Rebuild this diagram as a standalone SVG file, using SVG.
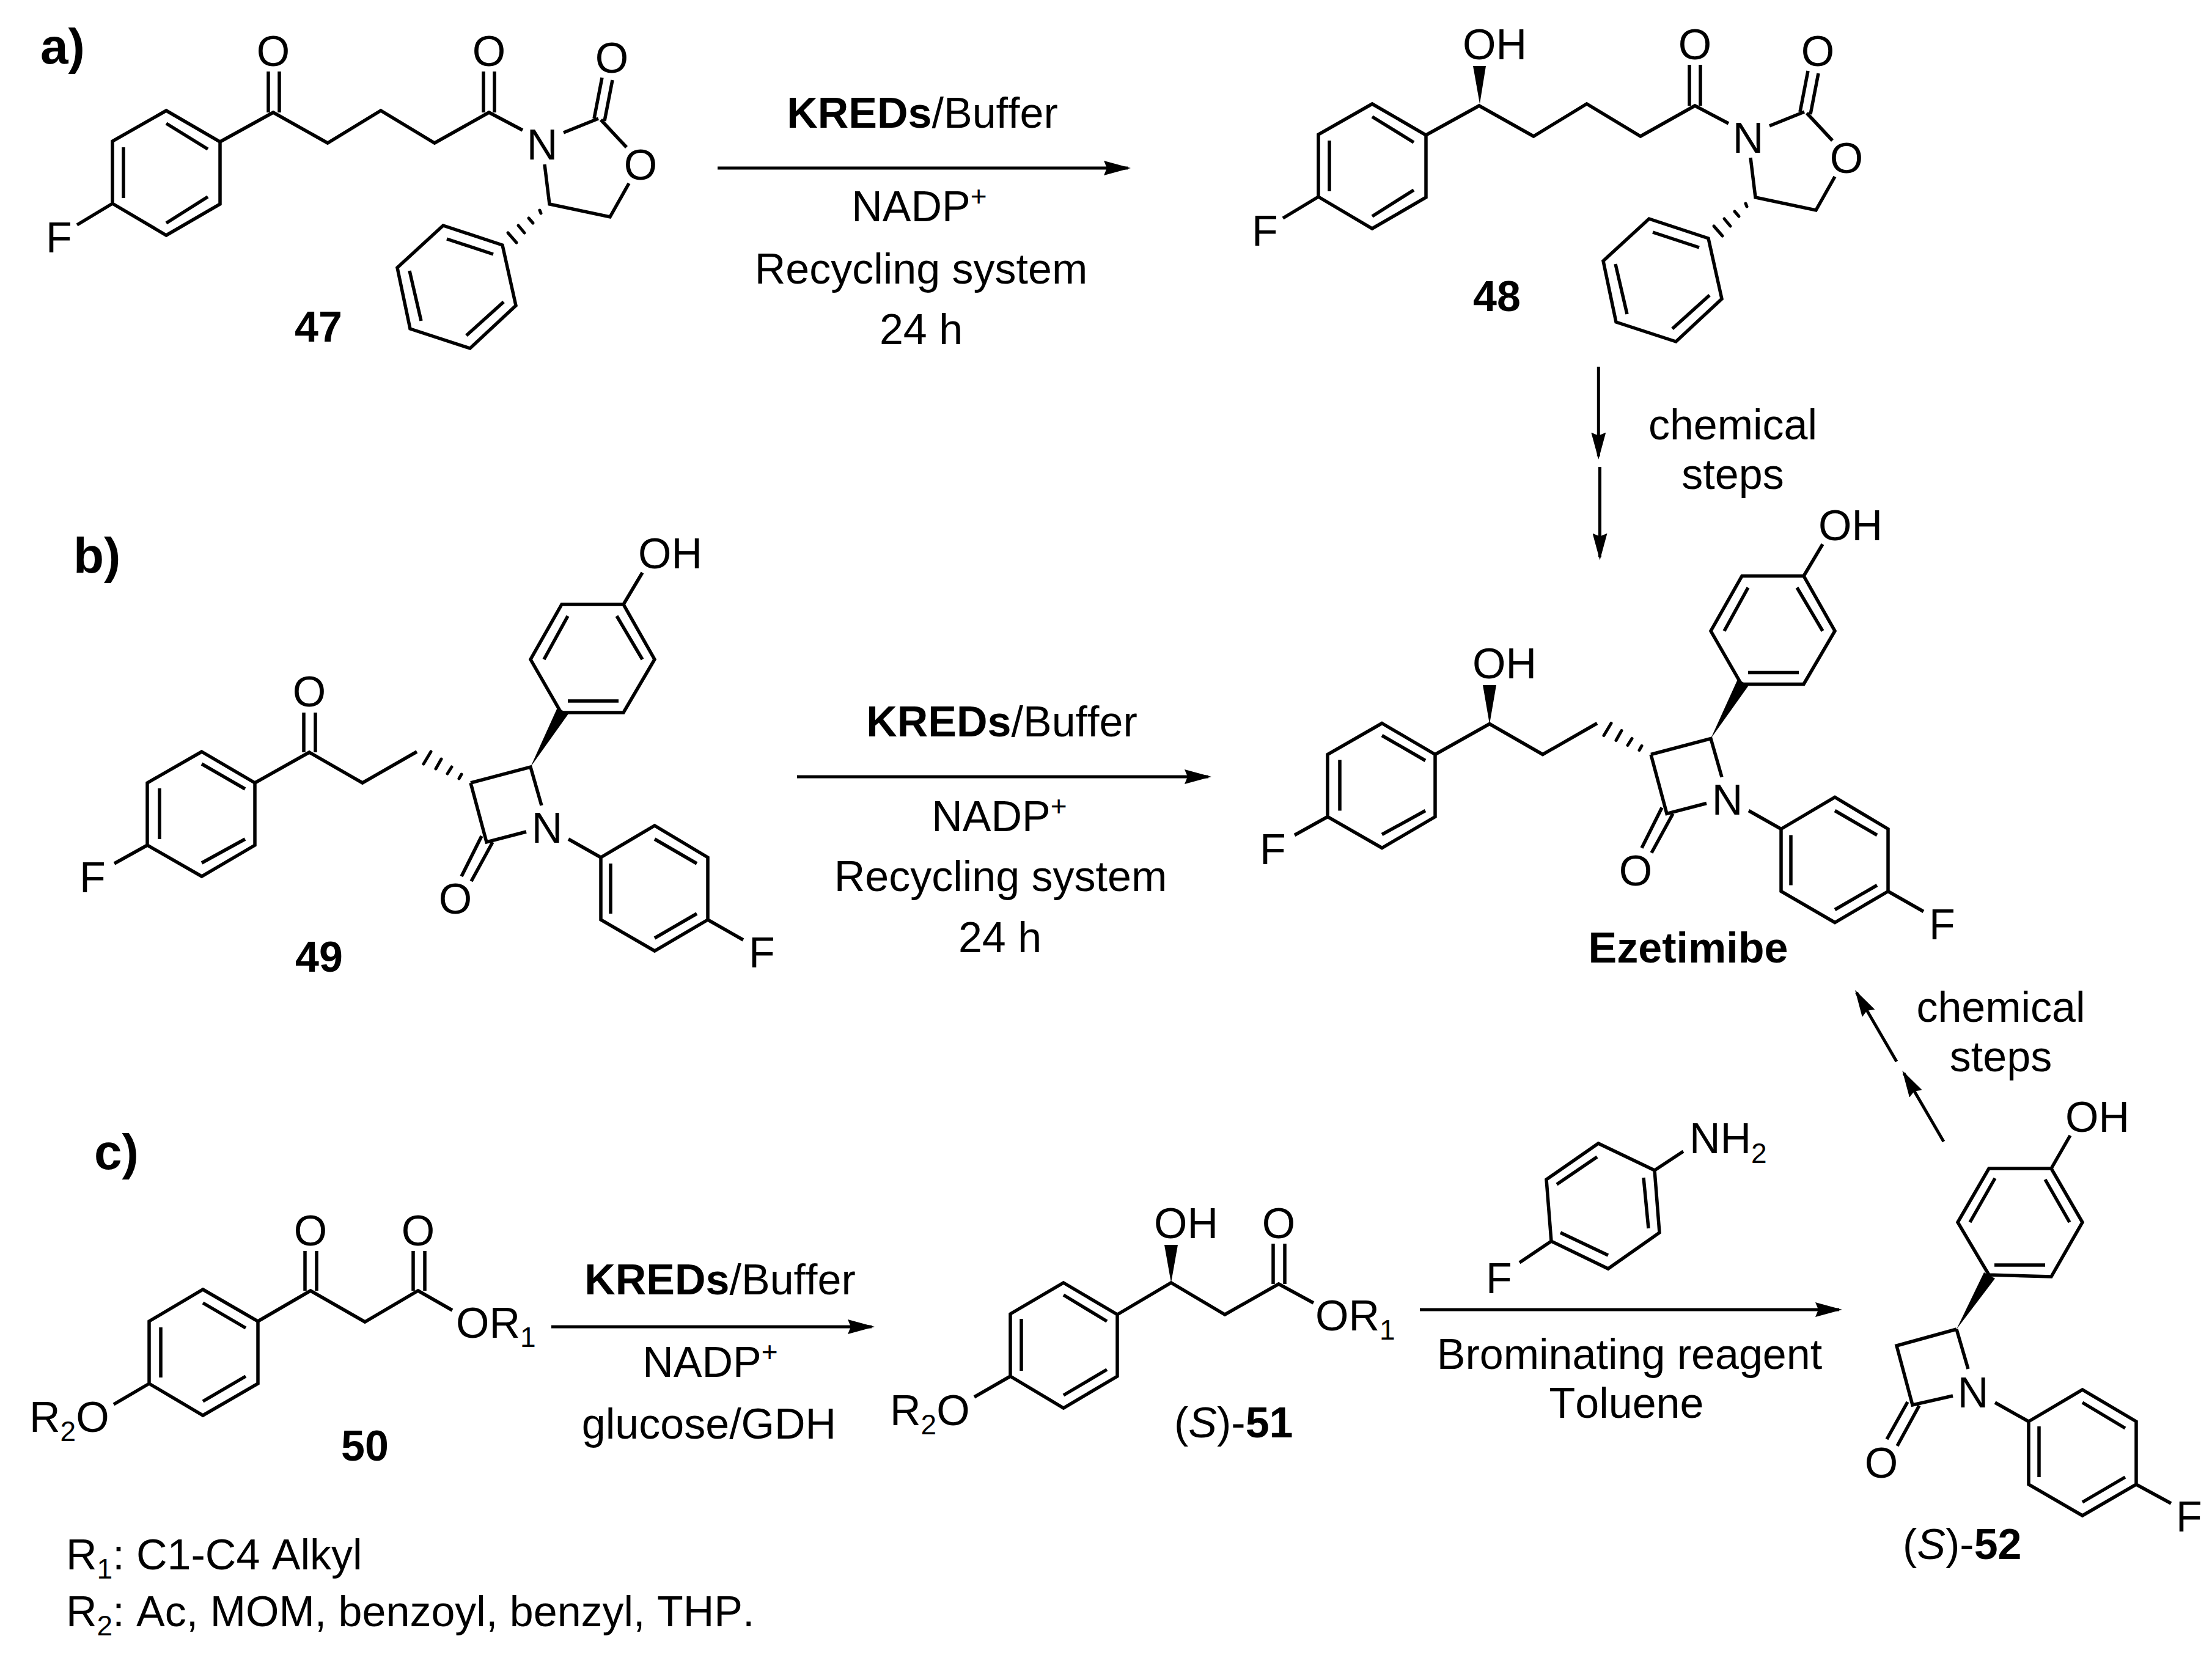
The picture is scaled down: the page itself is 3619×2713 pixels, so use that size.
<svg xmlns="http://www.w3.org/2000/svg" width="3619" height="2713" viewBox="0 0 3619 2713">
<style>
text{font-family:"Liberation Sans",Arial,sans-serif;font-size:70px;fill:#000;font-kerning:none}
.b{fill:none;stroke:#000;stroke-width:5.500;stroke-linejoin:miter}
.d{fill:none;stroke:#000;stroke-width:5;stroke-linecap:round}
.w{fill:#000;stroke:none}
.c{text-anchor:middle}
.bd{font-weight:bold}
.s{font-size:46px}
.h{font-weight:bold;font-size:82px}
.i{font-style:italic}
.a{fill:none;stroke:#000;stroke-width:5}
</style>
<defs>
<marker id="ah" markerUnits="userSpaceOnUse" markerWidth="44" markerHeight="24" refX="39" refY="12" orient="auto"><path d="M0 0L44 12L0 24L5 12Z" fill="#000"/></marker>
<g id="core47">
<path class="b" d="M272 181L360 232L360 334L272 385L184 333L184 231ZM272 202L340 244M202 241V324M340 322L272 365M360 232L447 184L536 234L623 181L711 234L800 184L855 213M791 117V184M809 117V184M184 333L126 368M922 217L979 194M972 194L985 127M989 198L1002 131M983 196L1025 241M1029 300L998 355L899 334L891 269M822 401L725 369L650 438L671 538L769 570L844 500ZM731 391L807 416M670 443L689 525M824 494L763 549"/>
<path class="d" d="M883 344L885 349M865 357L872 365M848 369L858 381M831 381L845 397"/>
</g>
<g id="core49">
<path class="b" d="M330 1230L417 1281V1383L330 1434L241 1383V1281ZM330 1250L401 1291M261 1290V1373M401 1373L330 1412M241 1383L187 1413M417 1281L506 1231L593 1281L682 1230M770 1281L868 1255L886 1318M770 1281L796 1378L861 1361M788 1368L755 1434M806 1378L771 1442M930 1373L983 1403M983 1403L1071 1351L1158 1403V1505L1071 1556L983 1505ZM1071 1373L1140 1413M999 1413V1495M1140 1495L1071 1535M1158 1505L1216 1538M918 1166H1020L1071 1079L1020 989H919L868 1079ZM929 1147H1012M890 1079L929 1008M1009 1008L1051 1079M1020 989L1051 937"/>
<path class="d" d="M751 1274L755 1267M732 1266L739 1255M713 1258L722 1242M693 1250L705 1230"/>
<path class="w" d="M868 1255L912 1158L930 1168Z"/>
</g>
</defs>

<g id="label-a"><text class="h" x="66" y="104">a)</text></g>
<g id="label-b"><text class="h" x="120" y="937">b)</text></g>
<g id="label-c"><text class="h" x="154" y="1913">c)</text></g>

<g id="compound-47">
<use href="#core47"/>
<path class="b" d="M439 117V184M457 117V184"/>
<text class="c" x="447" y="108">O</text><text class="c" x="800" y="108">O</text><text class="c" x="887" y="261">N</text><text class="c" x="1001" y="119">O</text><text class="c" x="1048" y="294">O</text><text x="75" y="413">F</text>
<text class="c bd" x="521" y="559">47</text>
</g>

<g id="compound-48">
<use href="#core47" x="1973" y="-11"/>
<path class="w" d="M2421 170L2410 108H2431Z"/>
<text x="2393" y="97">OH</text>
<text class="c" x="2773" y="97">O</text><text class="c" x="2860" y="250">N</text><text class="c" x="2974" y="108">O</text><text class="c" x="3021" y="283">O</text><text x="2048" y="402">F</text>
<text class="c bd" x="2449" y="509">48</text>
</g>

<g id="compound-49">
<use href="#core49"/>
<path class="b" d="M497 1166V1231M516 1166V1231"/>
<text class="c" x="506" y="1156">O</text><text x="130" y="1460">F</text><text class="c" x="895" y="1379">N</text><text class="c" x="745" y="1495">O</text><text x="1225" y="1583">F</text><text x="1044" y="930">OH</text>
<text class="c bd" x="522" y="1590">49</text>
</g>

<g id="compound-ezetimibe">
<use href="#core49" x="1931" y="-46.5"/>
<path class="w" d="M2437 1185L2426 1121H2448Z"/>
<text x="2409" y="1110">OH</text>
<text x="2061" y="1413.500">F</text><text class="c" x="2826" y="1332.500">N</text><text class="c" x="2676" y="1448.500">O</text><text x="3156" y="1536.500">F</text><text x="2975" y="883.500">OH</text>
<text class="c bd" x="2762" y="1575">Ezetimibe</text>
</g>

<g id="compound-50">
<path class="b" d="M332 2110L422 2162V2264L332 2316L244 2264V2162ZM332 2132L402 2173M263 2172V2254M402 2252L332 2293M244 2264L186 2298M422 2162L508 2112L597 2163L684 2112L740 2144M499 2047V2112M518 2047V2112M676 2047V2112M695 2047V2112"/>
<text class="c" x="508" y="2038">O</text><text class="c" x="684" y="2038">O</text>
<text x="746" y="2189">OR<tspan class="s" dy="15">1</tspan></text>
<text x="48" y="2343">R<tspan class="s" dy="15">2</tspan><tspan dy="-15">O</tspan></text>
<text class="c bd" x="597" y="2390">50</text>
</g>

<g id="compound-51">
<path class="b" d="M1740 2099L1828 2151V2252L1740 2304L1653 2252V2150ZM1740 2119L1811 2162M1671 2158V2243M1811 2241L1740 2283M1653 2252L1594 2286M1828 2151L1916 2099L2004 2151L2092 2101L2149 2132M2083 2035V2101M2102 2035V2101"/>
<path class="w" d="M1916 2099L1905 2037H1927Z"/>
<text x="1888" y="2026">OH</text><text class="c" x="2092" y="2026">O</text>
<text x="2152" y="2177">OR<tspan class="s" dy="15">1</tspan></text>
<text x="1456" y="2332">R<tspan class="s" dy="15">2</tspan><tspan dy="-15">O</tspan></text>
<text x="1921" y="2352">(<tspan class="i">S</tspan>)-<tspan class="bd">51</tspan></text>
</g>

<g id="reagent-fluoroaniline" transform="translate(-2 0)">
<path class="b" d="M2709 1915L2617 1871L2532 1930L2540 2031L2633 2076L2717 2017ZM2615 1893L2549 1938M2691 1927L2699 2010M2633 2054L2555 2017M2709 1915L2756 1884M2540 2031L2488 2066"/>
<text x="2766" y="1887">NH<tspan class="s" dy="16">2</tspan></text>
<text x="2433" y="2116">F</text>
</g>

<g id="compound-52" transform="translate(-8 0)">
<path class="b" d="M3262 2086L3364 2089L3415 2000L3364 1912H3262L3211 2000ZM3271 2070H3354M3231 2000L3272 1928M3354 1930L3394 2000M3364 1912L3395 1858M3209 2175L3111 2202L3137 2299L3203 2284M3209 2175L3228 2240M3129 2294L3095 2355M3148 2300L3112 2366M3272 2295L3327 2326M3327 2326L3415 2274L3503 2326V2429L3415 2480L3327 2429ZM3415 2295L3485 2337M3344 2334V2417M3485 2417L3415 2458M3503 2429L3560 2460"/>
<path class="w" d="M3209 2175L3254 2082L3272 2092Z"/>
<text x="3387" y="1852">OH</text><text class="c" x="3236" y="2303">N</text><text class="c" x="3086" y="2418">O</text><text x="3568" y="2506">F</text>
<text x="3121" y="2551">(<tspan class="i">S</tspan>)-<tspan class="bd">52</tspan></text>
</g>

<g id="connectors">
<path class="a" d="M1174 275H1845" marker-end="url(#ah)"/>
<path class="a" d="M1304 1271H1977" marker-end="url(#ah)"/>
<path class="a" d="M902 2171H1426" marker-end="url(#ah)"/>
<path class="a" d="M2323 2143H3009" marker-end="url(#ah)"/>
<path class="a" d="M2615.300 600V746.700" marker-end="url(#ah)"/>
<path class="a" d="M2617.500 764V911.700" marker-end="url(#ah)"/>
<path class="a" d="M3180 1868L3114.800 1756" marker-end="url(#ah)"/>
<path class="a" d="M3103 1737L3037.500 1624.300" marker-end="url(#ah)"/>
</g>

<g id="conditions-a">
<text class="c" x="1509" y="209"><tspan class="bd">KREDs</tspan>/Buffer</text>
<text class="c" x="1504" y="362">NADP<tspan class="s" dy="-25">+</tspan></text>
<text class="c" x="1507" y="464">Recycling system</text>
<text class="c" x="1507" y="563">24 h</text>
</g>
<g id="conditions-b">
<text class="c" x="1639" y="1205"><tspan class="bd">KREDs</tspan>/Buffer</text>
<text class="c" x="1635" y="1360">NADP<tspan class="s" dy="-25">+</tspan></text>
<text class="c" x="1637" y="1458">Recycling system</text>
<text class="c" x="1636" y="1558">24 h</text>
</g>
<g id="conditions-c">
<text class="c" x="1178" y="2118"><tspan class="bd">KREDs</tspan>/Buffer</text>
<text class="c" x="1162" y="2253">NADP<tspan class="s" dy="-25">+</tspan></text>
<text class="c" x="1160" y="2354">glucose/GDH</text>
</g>
<g id="conditions-d">
<text class="c" x="2666" y="2240">Brominating reagent</text>
<text class="c" x="2661" y="2320">Toluene</text>
</g>
<g id="steps-1">
<text class="c" x="2835" y="719">chemical</text>
<text class="c" x="2835" y="800">steps</text>
</g>
<g id="steps-2">
<text class="c" x="3273.500" y="1672">chemical</text>
<text class="c" x="3273.500" y="1753">steps</text>
</g>
<g id="substituents">
<text x="108" y="2568">R<tspan class="s" dy="15">1</tspan><tspan dy="-15">: C1-C4 Alkyl</tspan></text>
<text x="108" y="2661">R<tspan class="s" dy="15">2</tspan><tspan dy="-15">: Ac, MOM, benzoyl, benzyl, THP.</tspan></text>
</g>
</svg>
